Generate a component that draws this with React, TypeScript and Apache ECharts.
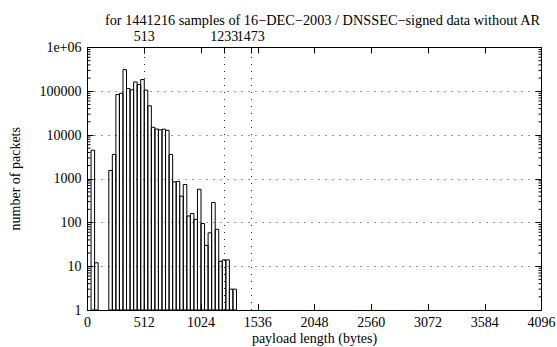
import React, { useEffect, useRef } from "react";
import * as echarts from "echarts";

const TITLE = "for 1441216 samples of 16\u2212DEC\u22122003 / DNSSEC\u2212signed data without AR";
const X_NAME = "payload length (bytes)";
const Y_NAME = "number of packets";

const BIN_WIDTH = 32;
const binStarts = [
  32, 64,
  192, 224, 256, 288, 320, 352, 384, 416, 448, 480,
  512, 544, 576, 608, 640, 672, 704, 736, 768, 800,
  832, 864, 896, 928, 960, 992, 1024, 1056, 1088, 1120,
  1152, 1184, 1216, 1248, 1280, 1312,
];
const packetCounts = [
  4500, 12,
  1550, 3600, 84000, 90000, 312000, 115000, 108000, 163000, 142000, 185000,
  106000, 46500, 15000, 13700, 13100, 13600, 12800, 3600, 850, 870,
  400, 740, 141, 160, 118, 575, 95, 30, 58, 287,
  70, 13, 14, 14, 3, 3,
];

const xTickValues = [0, 512, 1024, 1536, 2048, 2560, 3072, 3584, 4096];
const markedLengths = [513, 1233, 1473];
const yDecades = [1, 10, 100, 1000, 10000, 100000, 1000000];
const minorMultipliers = [2, 3, 4, 5, 6, 7, 8, 9];

const FONT = '"Liberation Serif", "Times New Roman", "DejaVu Serif", serif';

export default function App() {
  const ref = useRef<HTMLDivElement>(null);

  useEffect(() => {
    if (!ref.current) return;
    const chart = echarts.init(ref.current, undefined, { renderer: "svg" });

    const bars = binStarts.map((s, i) => [s, s + BIN_WIDTH, packetCounts[i]]);
    const yMinorTicks: number[] = [];
    yDecades.slice(0, -1).forEach((d) => minorMultipliers.forEach((m) => yMinorTicks.push(m * d)));

    const axisLine = { show: true, onZero: false, lineStyle: { color: "#000", width: 1 } };
    const labelStyle = { color: "#000", fontSize: 14, fontFamily: FONT };
    const plain = (v: number) => String(v);

    const topAxisBase = {
      type: "value",
      position: "top",
      min: 0,
      max: 4096,
      interval: 512,
      splitLine: { show: false },
    };

    chart.setOption({
      animation: false,
      backgroundColor: "#fff",
      textStyle: { fontFamily: FONT, fontSize: 14, color: "#000" },
      grid: {
        left: 87.5,
        right: 15.5,
        top: 47.5,
        bottom: 37,
        containLabel: false,
        outerBoundsMode: "none",
      },
      graphic: [
        {
          type: "text",
          x: 322.5,
          y: 20,
          style: {
            text: TITLE,
            fill: "#000",
            font: `14.3px ${FONT}`,
            textAlign: "center",
            textVerticalAlign: "middle",
          },
        },
      ],
      xAxis: [
        {
          type: "value",
          position: "bottom",
          min: 0,
          max: 4096,
          interval: 512,
          axisLine,
          axisTick: { show: true, inside: true, length: 6, lineStyle: { color: "#000" } },
          axisLabel: { show: true, margin: 5, formatter: plain, ...labelStyle },
          splitLine: { show: false },
          name: X_NAME,
          nameLocation: "middle",
          nameGap: 21,
          nameMoveOverlap: false,
          nameTextStyle: labelStyle,
        },
        {
          ...topAxisBase,
          axisLine,
          axisTick: {
            show: true,
            inside: true,
            length: 6,
            lineStyle: { color: "#000" },
            customValues: [...xTickValues, ...markedLengths],
          },
          axisLabel: {
            show: true,
            margin: 4,
            hideOverlap: false,
            customValues: markedLengths.slice(0, 2),
            formatter: plain,
            ...labelStyle,
          },
        },
        {
          ...topAxisBase,
          axisLine: { show: false, onZero: false },
          axisTick: { show: false },
          axisLabel: {
            show: true,
            margin: 4,
            hideOverlap: false,
            customValues: markedLengths.slice(2),
            formatter: plain,
            ...labelStyle,
          },
        },
      ],
      yAxis: [
        {
          type: "log",
          logBase: 10,
          min: 1,
          max: 1000000,
          position: "left",
          axisLine,
          axisTick: { show: true, inside: true, length: 6, lineStyle: { color: "#000" } },
          axisLabel: {
            show: true,
            margin: 6,
            ...labelStyle,
            formatter: (v: number) => (v >= 1000000 ? "1e+06" : String(v)),
          },
          splitLine: { show: true, lineStyle: { type: [1, 6], color: "#333", width: 1 } },
          name: Y_NAME,
          nameLocation: "middle",
          nameRotate: 90,
          nameGap: 65,
          nameMoveOverlap: false,
          nameTextStyle: labelStyle,
        },
        {
          type: "log",
          logBase: 10,
          min: 1,
          max: 1000000,
          position: "right",
          axisLine,
          axisTick: { show: true, inside: true, length: 6, lineStyle: { color: "#000" } },
          axisLabel: { show: false },
          splitLine: { show: false },
        },
      ],
      series: [
        {
          type: "line",
          data: [],
          silent: true,
          markLine: {
            silent: true,
            symbol: ["none", "none"],
            label: { show: false },
            lineStyle: { type: [1, 6], color: "#222", width: 1 },
            data: markedLengths.map((v) => ({ xAxis: v })),
          },
        },
        {
          type: "custom",
          name: "minor ticks",
          xAxisIndex: 0,
          yAxisIndex: 0,
          silent: true,
          data: yMinorTicks.map((v) => [0, 4096, v]),
          encode: { x: [0, 1], y: 2 },
          renderItem: (params: any, api: any) => {
            const v = api.value(2);
            const p = api.coord([api.value(0), v]);
            const q = api.coord([api.value(1), v]);
            return {
              type: "group",
              children: [
                {
                  type: "line",
                  shape: { x1: p[0], y1: p[1], x2: p[0] + 3, y2: p[1] },
                  style: { stroke: "#000", lineWidth: 1 },
                },
                {
                  type: "line",
                  shape: { x1: q[0] - 3, y1: q[1], x2: q[0], y2: q[1] },
                  style: { stroke: "#000", lineWidth: 1 },
                },
              ],
            };
          },
        },
        {
          type: "custom",
          name: "packets",
          xAxisIndex: 0,
          yAxisIndex: 0,
          data: bars,
          encode: { x: [0, 1], y: 2 },
          z: 3,
          renderItem: (params: any, api: any) => {
            const top = api.coord([api.value(0), api.value(2)]);
            const bot = api.coord([api.value(1), 1]);
            return {
              type: "rect",
              shape: {
                x: top[0],
                y: top[1],
                width: bot[0] - top[0],
                height: bot[1] - top[1],
              },
              style: { fill: "none", stroke: "#000", lineWidth: 1 },
            };
          },
        },
      ],
    });

    return () => chart.dispose();
  }, []);

  return (
    <div
      ref={ref}
      style={{ position: "absolute", left: 0, top: 0, width: 557, height: 347, background: "#fff" }}
    />
  );
}
